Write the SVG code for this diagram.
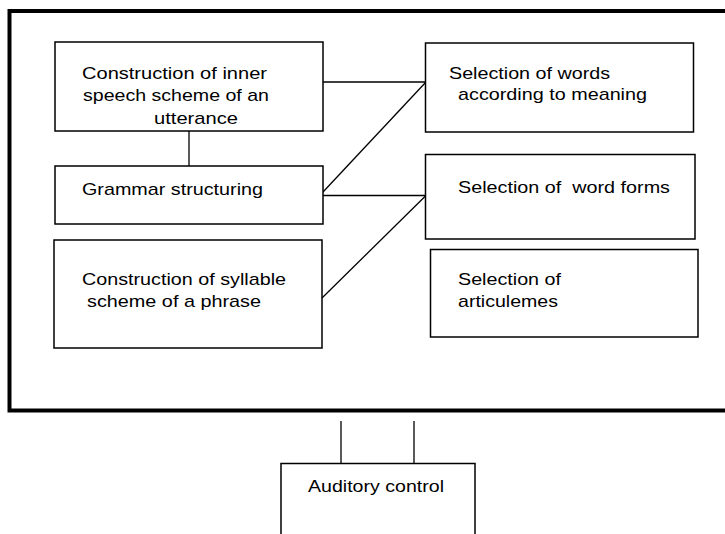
<svg xmlns="http://www.w3.org/2000/svg" width="725" height="534" viewBox="0 0 725 534">
<style>
.box{fill:#fff;stroke:#000;stroke-width:1.5}
.frame{fill:none;stroke:#000;stroke-width:4}
.conn line{stroke:#000;stroke-width:1.3}
text{font-family:"Liberation Sans",Arial,sans-serif;font-size:17px;fill:#000}
</style>
<rect width="725" height="534" fill="#fff"/>
<rect id="frame" class="frame" x="9.5" y="11" width="730" height="399.5"/>
<g id="connectors" class="conn">
<line x1="323" y1="82" x2="426" y2="82"/>
<line x1="323" y1="192" x2="426" y2="82"/>
<line x1="323" y1="195.5" x2="426" y2="195.5"/>
<line x1="322" y1="298" x2="426" y2="195.5"/>
<line x1="189" y1="131" x2="189" y2="166"/>
<line x1="341" y1="421" x2="341" y2="464"/>
<line x1="414" y1="421" x2="414" y2="464"/>
</g>
<g id="n1"><rect class="box" x="55" y="42" width="268" height="89"/>
<text x="82" y="79" textLength="185" lengthAdjust="spacingAndGlyphs">Construction of inner</text>
<text x="83" y="101" textLength="186" lengthAdjust="spacingAndGlyphs">speech scheme of an</text>
<text x="154" y="124" textLength="84" lengthAdjust="spacingAndGlyphs">utterance</text></g>
<g id="n2"><rect class="box" x="55" y="166" width="268" height="58"/>
<text x="82" y="195" textLength="181" lengthAdjust="spacingAndGlyphs">Grammar structuring</text></g>
<g id="n3"><rect class="box" x="54" y="240" width="268" height="108"/>
<text x="82" y="285" textLength="204" lengthAdjust="spacingAndGlyphs">Construction of syllable</text>
<text x="87" y="307" textLength="174" lengthAdjust="spacingAndGlyphs">scheme of a phrase</text></g>
<g id="n4"><rect class="box" x="425.5" y="43" width="268" height="89"/>
<text x="449" y="79" textLength="161" lengthAdjust="spacingAndGlyphs">Selection of words</text>
<text x="458" y="100" textLength="189" lengthAdjust="spacingAndGlyphs">according to meaning</text></g>
<g id="n5"><rect class="box" x="425.5" y="154.5" width="269.5" height="84.5"/>
<text x="458" y="193" textLength="212" lengthAdjust="spacingAndGlyphs" xml:space="preserve">Selection of  word forms</text></g>
<g id="n6"><rect class="box" x="430.5" y="249.5" width="267.5" height="87.5"/>
<text x="458" y="285" textLength="103" lengthAdjust="spacingAndGlyphs">Selection of</text>
<text x="458" y="307" textLength="100" lengthAdjust="spacingAndGlyphs">articulemes</text></g>
<g id="n7"><rect class="box" x="281" y="463.5" width="194" height="80"/>
<text x="308" y="492" textLength="136" lengthAdjust="spacingAndGlyphs">Auditory control</text></g>
</svg>
